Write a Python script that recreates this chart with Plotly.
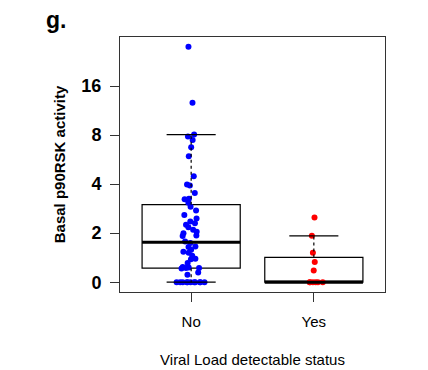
import numpy as np
import plotly.graph_objects as go

categories = ["No", "Yes"]
tick_vals = [0, 1, 2, 3, 4]
tick_labels = ["0", "2", "4", "8", "16"]

# values on the chart's log-like scale (0 -> "0", 1 -> "2", 2 -> "4", 3 -> "8", 4 -> "16")
no_values = [4.80, 3.66, 3.01, 2.97, 2.90, 2.75, 2.57, 2.16, 1.99, 1.97,
             1.82, 1.69, 1.70, 1.62, 1.54, 1.46, 1.37, 1.30, 1.24, 1.20,
             1.17, 1.12, 1.07, 1.03, 1.00, 0.94, 0.95, 0.83, 0.80, 0.73,
             0.72, 0.66, 0.62, 0.60, 0.54, 0.47, 0.48, 0.39, 0.29, 0.29,
             0.30, 0.31, 0.28, 0.20, 0.15,
             0, 0, 0, 0, 0, 0, 0, 0, 0, 0, 0]
yes_values = [1.32, 0.945, 0.60, 0.41, 0.24, 0, 0, 0, 0, 0, 0]

groups = [no_values, yes_values]
colors = ["#0000FF", "#FF0000"]


def fivenum(v):
    x = np.sort(np.asarray(v, dtype=float))
    n = len(x)
    n4 = np.floor((n + 3) / 2) / 2
    d = np.array([1, n4, (n + 1) / 2, n + 1 - n4, n]) - 1
    return 0.5 * (x[np.floor(d).astype(int)] + x[np.ceil(d).astype(int)])


fig = go.Figure()
BW = 0.8
for i, (vals, col) in enumerate(zip(groups, colors)):
    pos = i + 1
    arr = np.asarray(vals, dtype=float)
    mn, q1, med, q3, mx = fivenum(arr)
    iqr = q3 - q1
    upper = arr[arr <= q3 + 1.5 * iqr].max()
    lower = arr[arr >= q1 - 1.5 * iqr].min()
    fig.add_trace(go.Box(x=[pos], q1=[q1], median=[med], q3=[q3],
                         lowerfence=[q1], upperfence=[q3], width=BW,
                         fillcolor="white", line=dict(color="black", width=1.2),
                         whiskerwidth=0, boxpoints=False, hoverinfo="skip"))
    # whiskers (dashed) and staples
    for a, b in [(q3, upper), (q1, lower)]:
        fig.add_trace(go.Scatter(x=[pos, pos], y=[a, b], mode="lines",
                                 line=dict(color="black", width=1.2, dash="3px,3px"),
                                 hoverinfo="skip"))
        fig.add_trace(go.Scatter(x=[pos - BW / 4, pos + BW / 4], y=[b, b], mode="lines",
                                 line=dict(color="black", width=1.2), hoverinfo="skip"))
    # thick median
    fig.add_trace(go.Scatter(x=[pos - BW / 2, pos + BW / 2], y=[med, med], mode="lines",
                             line=dict(color="black", width=3), hoverinfo="skip"))
    # jittered points
    fig.add_trace(go.Box(x=[pos] * len(vals), y=vals, boxpoints="all", jitter=0.35,
                         pointpos=0, width=BW, fillcolor="rgba(0,0,0,0)",
                         line=dict(color="rgba(0,0,0,0)", width=0),
                         marker=dict(color=col, size=6), hoveron="points"))

fig.add_annotation(text="<b>g.</b>", xref="paper", yref="paper", x=-0.285, y=1.065,
                   xanchor="left", yanchor="middle", showarrow=False,
                   font=dict(size=23, color="black"))

fig.update_layout(
    width=420, height=362,
    margin=dict(l=112, r=43, t=29, b=78),
    plot_bgcolor="white", paper_bgcolor="white",
    showlegend=False, boxmode="overlay",
    font=dict(family="Liberation Sans, Arial, sans-serif", color="black"),
    xaxis=dict(range=[0.42, 2.58], tickvals=[1, 2], ticktext=categories,
               ticks="outside", ticklen=9, tickcolor="#333", showline=True,
               mirror=True, linecolor="#333", linewidth=1, showgrid=False,
               zeroline=False, tickfont=dict(size=15), ticklabelstandoff=7,
               automargin=False,
               title=dict(text="Viral Load detectable status", font=dict(size=15), standoff=25)),
    yaxis=dict(range=[-0.2, 5.0], tickvals=tick_vals,
               ticktext=["<b>%s</b>" % t for t in tick_labels],
               ticks="outside", ticklen=9, tickcolor="#333", showline=True,
               mirror=True, linecolor="#333", linewidth=1, showgrid=False,
               zeroline=False, tickfont=dict(size=18), ticklabelstandoff=5,
               automargin=False,
               title=dict(text="<b>Basal p90RSK activity</b>", font=dict(size=15), standoff=12)),
)

fig.write_html("out.html")
